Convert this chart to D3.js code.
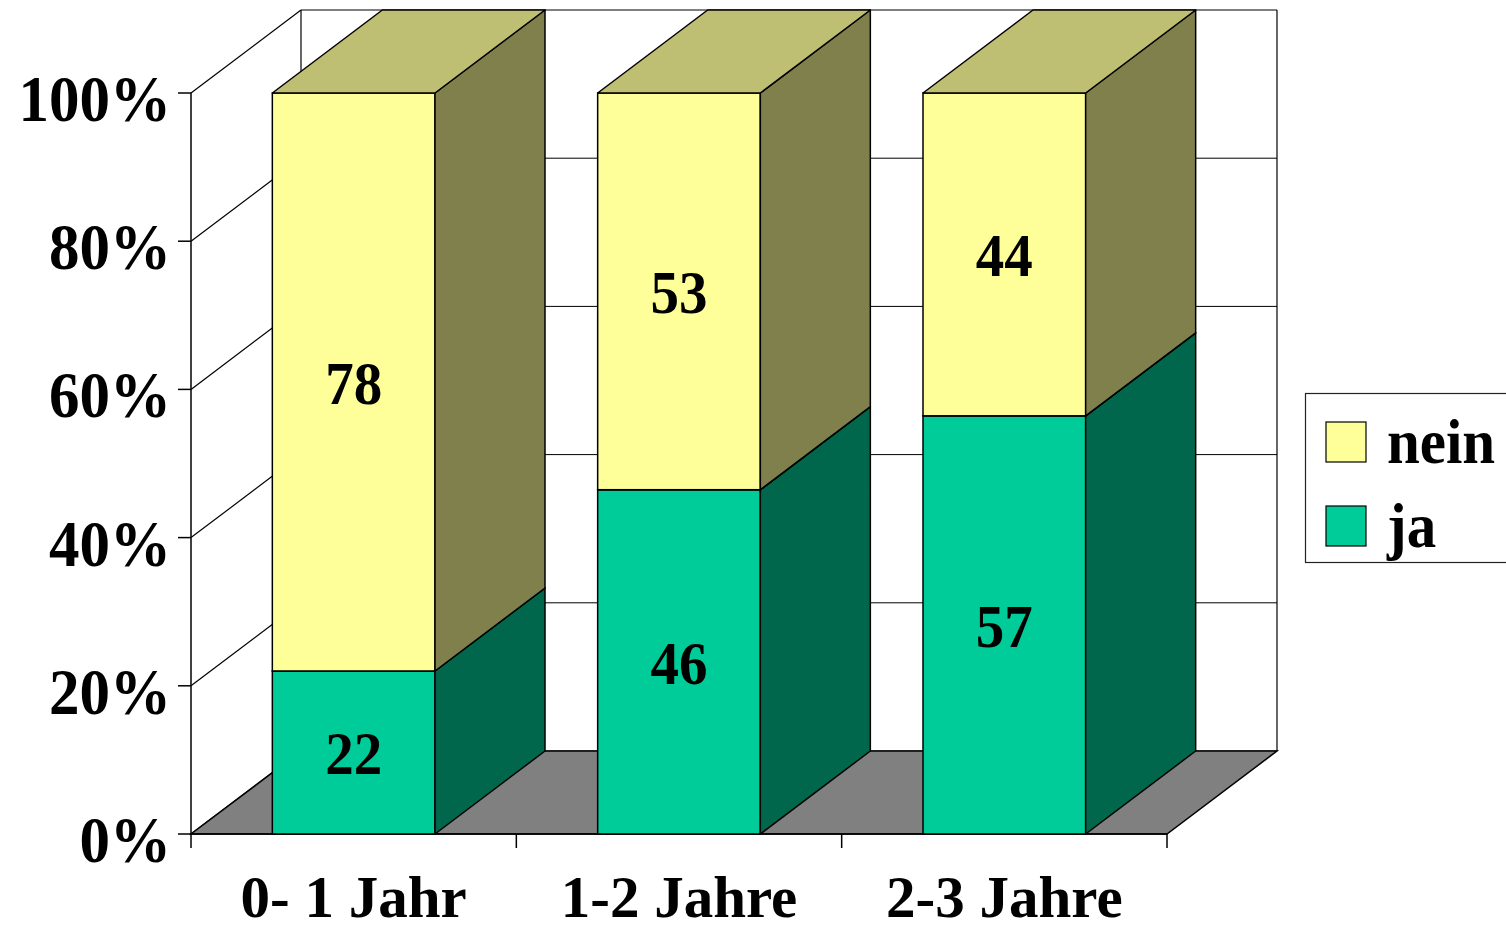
<!DOCTYPE html>
<html>
<head>
<meta charset="utf-8">
<script src="https://cdn.jsdelivr.net/npm/d3@7"></script>
<style>
  body { margin: 0; background: #fff; }
  text { font-family: "Liberation Serif", "Times New Roman", serif; font-weight: bold; }
</style>
</head>
<body>
<div id="chart"></div>
<script>
const categories = ["0- 1 Jahr", "1-2 Jahre", "2-3 Jahre"];
const jaValues = [22, 46, 57];
const neinValues = [78, 53, 44];
const seriesNames = ["ja", "nein"];
const tickValues = [0, 0.2, 0.4, 0.6, 0.8, 1];
const tickLabels = ["0%", "20%", "40%", "60%", "80%", "100%"];

const width = 1506;
const height = 931;

// 3d depth offset
const dx = 110;
const dy = -83;

const colors = {
    ja: {front: "#00CC99", side: "#00664C", top: "#00997A"},
    nein: {front: "#FFFF99", side: "#80804C", top: "#BFBF73"}
};

const rows = categories.map((c, i) => ({cat: c, ja: jaValues[i], nein: neinValues[i]}));
const stacked = d3.stack()
    .keys(seriesNames)
    .offset(d3.stackOffsetExpand)(rows);

const svg = d3.select('#chart')
    .append('svg')
        .attr('width', width)
        .attr('height', height);

const x = d3.scaleBand()
    .domain(categories)
    .range([191, 1167])
    .paddingInner(0.5)
    .paddingOuter(0.25);

const y = d3.scaleLinear()
    .domain([0, 1])
    .range([834, 93]);

const x0 = x.range()[0];
const x1 = x.range()[1];

// text in the reference is a bit taller than wide
const stretch = (px, py) => `translate(${px},${py}) scale(1,1.08)`;

// back wall gridlines
svg.append('g')
    .selectAll('line')
    .data(tickValues)
    .join('line')
        .attr('x1', x0 + dx)
        .attr('x2', x1 + dx)
        .attr('y1', d => y(d) + dy)
        .attr('y2', d => y(d) + dy)
        .attr('stroke', '#000')
        .attr('stroke-width', 1);

// left wall diagonals
svg.append('g')
    .selectAll('line')
    .data(tickValues)
    .join('line')
        .attr('x1', x0)
        .attr('y1', d => y(d))
        .attr('x2', x0 + dx)
        .attr('y2', d => y(d) + dy)
        .attr('stroke', '#000')
        .attr('stroke-width', 1.2);

// wall edges
svg.append('line')
    .attr('x1', x0 + dx).attr('x2', x0 + dx)
    .attr('y1', y(1) + dy).attr('y2', y(0) + dy)
    .attr('stroke', '#000').attr('stroke-width', 1.2);
svg.append('line')
    .attr('x1', x1 + dx).attr('x2', x1 + dx)
    .attr('y1', y(1) + dy).attr('y2', y(0) + dy)
    .attr('stroke', '#000').attr('stroke-width', 1.2);

// floor
svg.append('polygon')
    .attr('points', [
        [x0, y(0)], [x1, y(0)], [x1 + dx, y(0) + dy], [x0 + dx, y(0) + dy]
    ].join(' '))
    .attr('fill', '#808080')
    .attr('stroke', '#000')
    .attr('stroke-width', 1.5);

// y axis
svg.append('line')
    .attr('x1', x0).attr('x2', x0)
    .attr('y1', y(1)).attr('y2', y(0))
    .attr('stroke', '#000').attr('stroke-width', 1.5);
svg.append('g')
    .selectAll('line')
    .data(tickValues)
    .join('line')
        .attr('x1', x0 - 13)
        .attr('x2', x0)
        .attr('y1', d => y(d))
        .attr('y2', d => y(d))
        .attr('stroke', '#000')
        .attr('stroke-width', 1.5);
svg.append('g')
    .selectAll('text')
    .data(tickValues)
    .join('text')
        .attr('transform', d => stretch(171, y(d) + 28))
        .attr('text-anchor', 'end')
        .style('font-size', '61px')
        .text((d, i) => tickLabels[i]);

// x axis
svg.append('line')
    .attr('x1', x0).attr('x2', x1)
    .attr('y1', y(0)).attr('y2', y(0))
    .attr('stroke', '#000').attr('stroke-width', 1.5);
const xTicks = categories.map((c, i) => x0 + x.step() * i).concat([x1]);
svg.append('g')
    .selectAll('line')
    .data(xTicks)
    .join('line')
        .attr('x1', d => d)
        .attr('x2', d => d)
        .attr('y1', y(0))
        .attr('y2', y(0) + 14)
        .attr('stroke', '#000')
        .attr('stroke-width', 1.5);
svg.append('g')
    .selectAll('text')
    .data(categories)
    .join('text')
        .attr('x', d => x(d) + x.bandwidth() / 2)
        .attr('y', 917)
        .attr('text-anchor', 'middle')
        .style('font-size', '59px')
        .text(d => d);

// bars
const bw = x.bandwidth();
categories.forEach((cat, i) => {
    const g = svg.append('g');
    stacked.forEach(s => {
        const seg = s[i];
        const bx = x(cat);
        const yb = y(seg[0]);
        const yt = y(seg[1]);
        const col = colors[s.key];
        // front
        g.append('rect')
            .attr('x', bx)
            .attr('y', yt)
            .attr('width', bw)
            .attr('height', yb - yt)
            .attr('fill', col.front)
            .attr('stroke', '#000')
            .attr('stroke-width', 1.5);
        // side
        g.append('polygon')
            .attr('points', [
                [bx + bw, yt], [bx + bw + dx, yt + dy], [bx + bw + dx, yb + dy], [bx + bw, yb]
            ].join(' '))
            .attr('fill', col.side)
            .attr('stroke', '#000')
            .attr('stroke-width', 1.5)
            .attr('stroke-linejoin', 'round');
        // top
        g.append('polygon')
            .attr('points', [
                [bx, yt], [bx + dx, yt + dy], [bx + bw + dx, yt + dy], [bx + bw, yt]
            ].join(' '))
            .attr('fill', col.top)
            .attr('stroke', '#000')
            .attr('stroke-width', 1.5)
            .attr('stroke-linejoin', 'round');
        // value label
        g.append('text')
            .attr('transform', stretch(bx + bw / 2, (yt + yb) / 2 + 22))
            .attr('text-anchor', 'middle')
            .style('font-size', '57px')
            .text(seg.data[s.key]);
    });
});

// legend
const legend = svg.append('g');
legend.append('rect')
    .attr('x', 1305.5)
    .attr('y', 393.5)
    .attr('width', 230)
    .attr('height', 169)
    .attr('fill', '#fff')
    .attr('stroke', '#222')
    .attr('stroke-width', 1.2);
const legendItems = seriesNames.slice().reverse();
legend.selectAll('g.item')
    .data(legendItems)
    .join('g')
        .attr('class', 'item')
        .attr('transform', (d, i) => `translate(1326, ${422 + i * 84})`)
    .each(function(d) {
        const it = d3.select(this);
        it.append('rect')
            .attr('width', 40)
            .attr('height', 40)
            .attr('fill', colors[d].front)
            .attr('stroke', '#000')
            .attr('stroke-width', 1.2);
        it.append('text')
            .attr('transform', stretch(61, 41))
            .style('font-size', '59px')
            .text(d);
    });
</script>
</body>
</html>
